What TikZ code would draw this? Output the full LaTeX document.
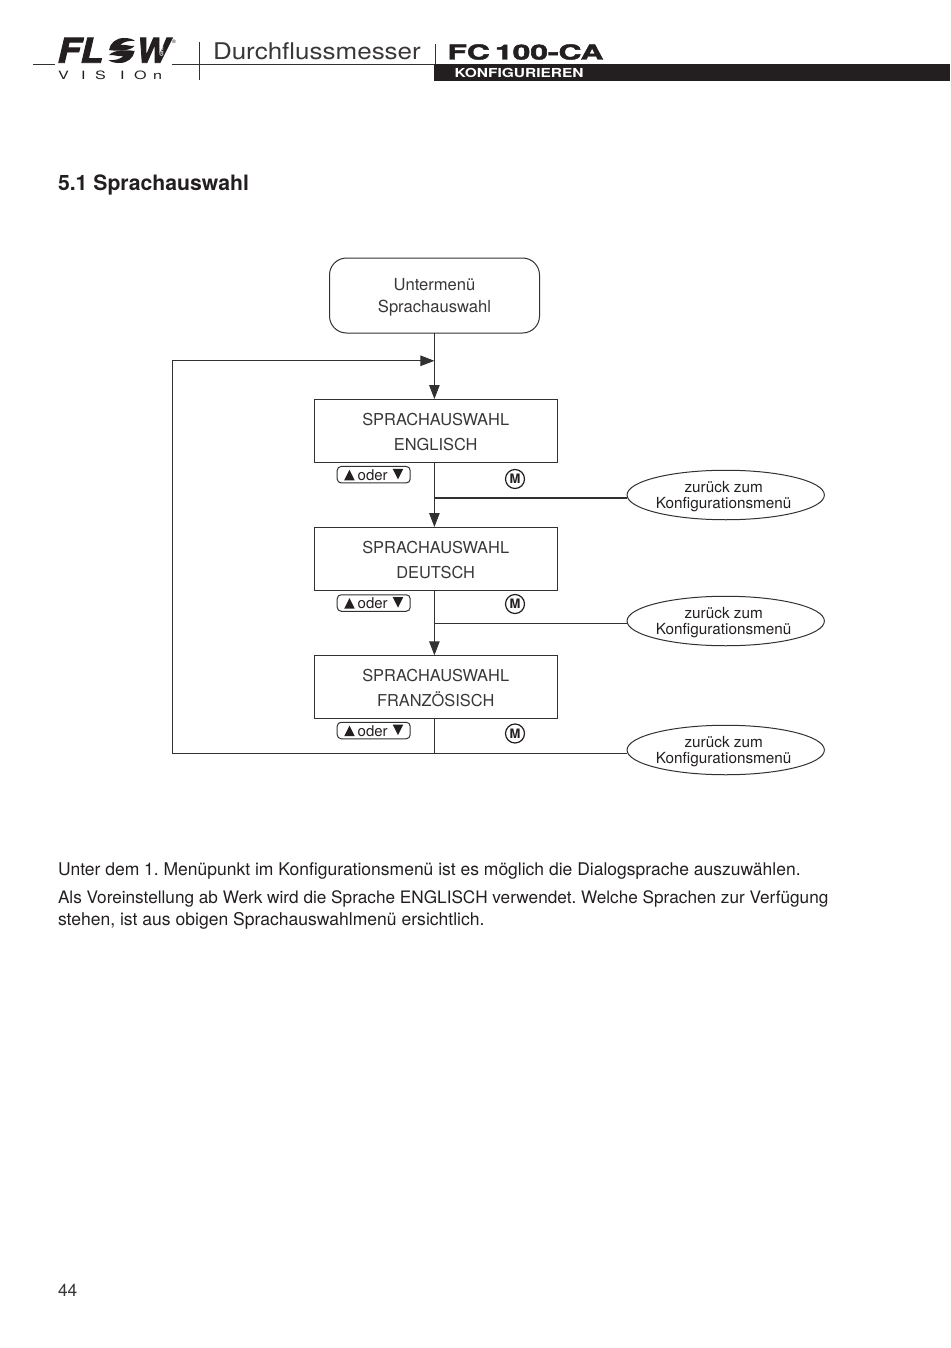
\documentclass[tikz,border=0pt]{standalone}
\usepackage{fontspec}
\setmainfont{TeX Gyre Heros}
\newfontfamily\heavyfont[BoldFeatures={FakeBold=2},BoldItalicFeatures={FakeBold=2.5}]{TeX Gyre Heros}
\frenchspacing
\usetikzlibrary{arrows.meta,shapes.geometric}
\definecolor{ink}{HTML}{231F20}
\definecolor{soft}{HTML}{3A3738}
\definecolor{wire}{HTML}{333031}
\newcommand{\tl}[1]{\rule{0pt}{#1pt}}
\newcommand{\bl}[1]{\rule[-#1pt]{0pt}{#1pt}}
\tikzset{
  x=1pt,y=-1pt,
  every node/.style={text=ink,inner sep=0pt,outer sep=0pt},
  menubox/.style={draw=wire,text=soft,line width=1pt,minimum width=243.4pt,minimum height=63.4pt,align=center,font=\fontsize{16.4}{24.5}\selectfont},
  startbox/.style={draw=wire,text=soft,line width=1pt,rounded corners=17pt,minimum width=210pt,minimum height=75pt,align=center,font=\fontsize{16.6}{21.7}\selectfont},
  backell/.style={draw=wire,line width=1pt,ellipse,minimum width=195pt,minimum height=49.5pt,align=center,font=\fontsize{15.3}{15.5}\selectfont},
  keybox/.style={draw=wire,line width=1pt,rounded corners=4pt,minimum width=73pt,minimum height=16.5pt,font=\fontsize{15}{15}\selectfont},
  mkey/.style={draw=ink,line width=1.2pt,circle,minimum size=19pt,font=\fontsize{13}{13}\bfseries\selectfont},
  conn/.style={draw=wire,line width=.95pt},
  flow/.style={conn,-{Triangle[length=14pt,width=10.5pt]}},
  body/.style={anchor=base west},
}
\newcommand{\uptri}{\tikz[baseline=0pt,x=1pt,y=1pt,sharp corners]\fill[ink] (0,0)--(10.5,0)--(5.25,10.5)--cycle;}
\newcommand{\dntri}{\tikz[baseline=0pt,x=1pt,y=1pt,sharp corners]\fill[ink] (0,11.5)--(10.5,11.5)--(5.25,1)--cycle;}
\newcommand{\oderkey}{\uptri\hspace{3pt}oder\hspace{5pt}\dntri}
\newcommand{\backtext}{\tl{14}zurück zum\hspace*{4pt}\\Konfigurationsmenü\hspace*{4pt}\bl{3.1}}
\begin{document}
\begin{tikzpicture}
\useasboundingbox (0,0) rectangle (950,1348);
% header
\draw[wire,line width=.9pt] (33,64)--(55,64);
\draw[wire,line width=.9pt] (171.5,64)--(434,64);
\draw[wire,line width=.9pt] (199,42)--(199,80.5);
\draw[wire,line width=.9pt] (435,44)--(435,64);
\fill[ink] (434,64)rectangle(950,81);
\node[anchor=base west,xscale=1.1,font=\fontsize{34}{34}\heavyfont\bfseries\itshape\selectfont] (logoF) at (57.5,62.7) {FL};
\node[anchor=base west,xscale=1.02,font=\fontsize{34}{34}\heavyfont\bfseries\itshape\selectfont] (logoW) at (136,62.7) {W};
\node[rotate=90,text=white,font=\fontsize{5}{5}\bfseries\selectfont] (gmbh) at (161.5,49) {GmbH};
\node[anchor=base west,font=\fontsize{5}{5}\selectfont] (reg) at (172,44) {®};
% swirl of the logo
\path[fill=ink] (109,50) .. controls (110,43) and (116,38) .. (124,38) .. controls (129,38) and (133,39) .. (135,41) .. controls (129,40.5) and (124,41.5) .. (120,45) .. controls (125,44) and (130,46.5) .. (134.5,46) .. controls (130,51) and (118,51.5) .. (109,50) -- cycle;
\begin{scope}[rotate around={180:(121.8,50.5)}]
\path[fill=ink] (109,50) .. controls (110,43) and (116,38) .. (124,38) .. controls (129,38) and (133,39) .. (135,41) .. controls (129,40.5) and (124,41.5) .. (120,45) .. controls (125,44) and (130,46.5) .. (134.5,46) .. controls (130,51) and (118,51.5) .. (109,50) -- cycle;
\end{scope}
\node[anchor=base west,xscale=1.4,font=\fontsize{11.5}{12}\selectfont] (logoV) at (58,80) {V\hspace{8.8pt}I\hspace{6.8pt}S\hspace{10.2pt}I\hspace{6.8pt}O\hspace{4.6pt}n};
\node[anchor=base west,text=soft,xscale=1.13,font=\fontsize{23}{23}\selectfont] (head) at (213,60) {Durchflussmesser};
\node[anchor=base west,xscale=1.54,font=\fontsize{20.6}{21}\heavyfont\bfseries\selectfont] (model) at (447.5,59.5) {FC\,100-CA};
\node[anchor=base west,text=white,font=\fontsize{12.4}{13}\bfseries\selectfont,xscale=1.25] (konf) at (454.5,77.3) {KONFIGURIEREN};
% title
\node[anchor=base west,font=\fontsize{21.2}{21}\bfseries\selectfont] (title) at (58,191) {5.1 Sprachauswahl};
% flow chart
\node[startbox] (start) at (434.5,295.5) {\tl{16}Untermenü\\Sprachauswahl\bl{4.5}};
\node[menubox] (m1) at (435.7,430.7) {\tl{17.4}SPRACHAUSWAHL\\ENGLISCH\bl{3}};
\node[menubox] (m2) at (435.7,558.7) {\tl{17.4}SPRACHAUSWAHL\\DEUTSCH\bl{3}};
\node[menubox] (m3) at (435.7,687) {\tl{17.4}SPRACHAUSWAHL\\FRANZÖSISCH\bl{3}};
\node[backell] (b1) at (725.7,495) {\backtext};
\node[backell] (b2) at (725.7,621) {\backtext};
\node[backell] (b3) at (725.7,750) {\backtext};
\node[keybox] (k1) at (373.7,474.7) {\oderkey};
\node[keybox] (k2) at (373.7,603) {\oderkey};
\node[keybox] (k3) at (373.7,730.5) {\oderkey};
\node[mkey] (mk1) at (515,479) {M};
\node[mkey] (mk2) at (515,604) {M};
\node[mkey] (mk3) at (515,733.5) {M};
\coordinate (j0) at (434.4,360.8);
\coordinate (j1) at (434.4,498);
\coordinate (j2) at (434.4,623.5);
\coordinate (j3) at (434.4,753);
\coordinate (cl) at (172.8,753);
\coordinate (ct) at (172.8,360.8);
\draw[flow] (start.south -| j0) -- (j0 |- m1.north);
\draw[flow] (j0 |- m1.south) -- (j0 |- m2.north);
\draw[flow] (j0 |- m2.south) -- (j0 |- m3.north);
\draw[conn] (j0 |- m3.south) -- (j3);
\draw[conn,line width=1.5pt] (j1) -- (j1 -| b1.west);
\draw[conn] (j2) -- (j2 -| b2.west);
\draw[conn] (j3) -- (j3 -| b3.west);
\draw[flow] (j3) -- (cl) -- (ct) -- (j0);
\draw[conn,line width=1.4pt] (m3.south west) -- (m3.south east);
% text
\node[body,font=\fontsize{17.5}{22}\selectfont] (t1) at (58,875) {Unter dem 1. Menüpunkt im Konfigurationsmenü ist es möglich die Dialogsprache auszuwählen.};
\node[body,font=\fontsize{17.19}{22}\selectfont] (t2) at (58,903) {Als Voreinstellung ab Werk wird die Sprache ENGLISCH verwendet. Welche Sprachen zur Verfügung};
\node[body,font=\fontsize{17.55}{22}\selectfont] (t3) at (58,925) {stehen, ist aus obigen Sprachauswahlmenü ersichtlich.};
\node[body,font=\fontsize{17.3}{22}\selectfont,text=soft] (page) at (58,1296) {44};
\end{tikzpicture}
\end{document}
